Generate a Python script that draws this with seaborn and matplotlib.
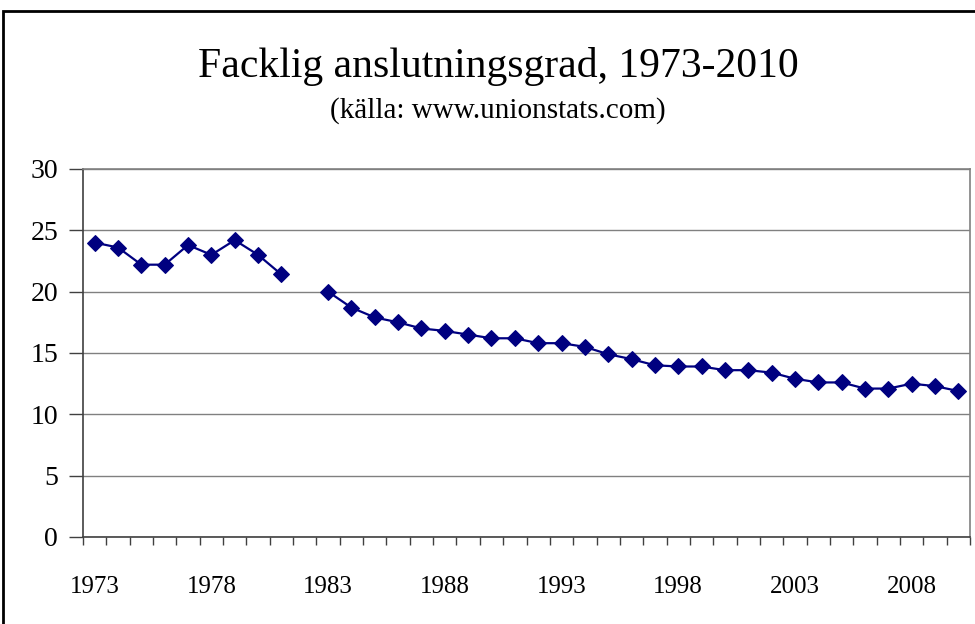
import matplotlib
matplotlib.use("Agg")
import matplotlib.pyplot as plt
import numpy as np
import pandas as pd
import seaborn as sns
from matplotlib.ticker import FixedLocator, NullFormatter

# Union density, Sweden (per cent), 1982 missing in source
years = list(range(1973, 2011))
density = [
    24.0, 23.6, 22.2, 22.2, 23.8, 23.0, 24.2, 23.0, 21.4, np.nan,
    20.0, 18.7, 17.9, 17.5, 17.0, 16.8, 16.5, 16.2, 16.2, 15.8,
    15.8, 15.5, 14.9, 14.5, 14.0, 13.9, 13.9, 13.6, 13.6, 13.4,
    12.9, 12.6, 12.6, 12.1, 12.1, 12.5, 12.3, 11.9,
]
year_labels = [1973, 1978, 1983, 1988, 1993, 1998, 2003, 2008]
y_ticks = [0, 5, 10, 15, 20, 25, 30]

TITLE = "Facklig anslutningsgrad, 1973-2010"
SUBTITLE = "(källa: www.unionstats.com)"
NAVY = "#000080"

sns.set_theme(style="white")
plt.rcParams["font.family"] = ["Liberation Serif", "DejaVu Serif"]
plt.rcParams["text.color"] = "black"
plt.rcParams["xtick.labelcolor"] = "black"
plt.rcParams["ytick.labelcolor"] = "black"

df = pd.DataFrame({"year": years, "density": density})
# split into segments so the 1982 gap is kept
df["segment"] = df["density"].isna().cumsum()
df = df.dropna()

fig = plt.figure(figsize=(9.75, 6.24), dpi=100)
ax = fig.add_axes([83 / 975, 87 / 624, (970 - 83) / 975, (537 - 169) / 624])

sns.lineplot(
    data=df, x="year", y="density", units="segment", estimator=None,
    color=NAVY, linewidth=1.6, marker="D", markersize=8.5,
    markeredgecolor=NAVY, ax=ax, legend=False,
)

ax.set_xlim(years[0] - 0.5, years[-1] + 0.5)
ax.set_ylim(0, 30)
ax.set_yticks(y_ticks)
ax.set_xticks(year_labels)
ax.xaxis.set_minor_locator(FixedLocator(np.arange(years[0] - 0.5, years[-1] + 1, 1)))
ax.xaxis.set_minor_formatter(NullFormatter())
ax.tick_params(axis="x", which="major", length=0, pad=28, labelsize=18)
ax.tick_params(axis="x", which="minor", length=6, width=1, color="#404040",
               direction="out", bottom=True)
ax.tick_params(axis="y", length=10, width=1, color="#404040", direction="out",
               left=True, pad=8, labelsize=20)
ax.set_xlabel("")
ax.set_ylabel("")

ax.grid(axis="y", color="#808080", linewidth=1)
ax.grid(axis="x", visible=False)
for side in ["top", "right"]:
    ax.spines[side].set_color("#808080")
    ax.spines[side].set_linewidth(1.2)
for side in ["left", "bottom"]:
    ax.spines[side].set_color("#404040")
    ax.spines[side].set_linewidth(1.2)

fig.text(498 / 975, 1 - 77 / 624, TITLE, ha="center", va="baseline", fontsize=30)
fig.text(498 / 975, 1 - 118 / 624, SUBTITLE, ha="center", va="baseline", fontsize=21)

# outer chart border
fig.patches.append(plt.Rectangle(
    (3 / 975, -0.1), 1.2, 1.1 - 11 / 624, transform=fig.transFigure,
    fill=False, edgecolor="black", linewidth=2,
))

fig.savefig("out.png", dpi=100)
plt.close(fig)
